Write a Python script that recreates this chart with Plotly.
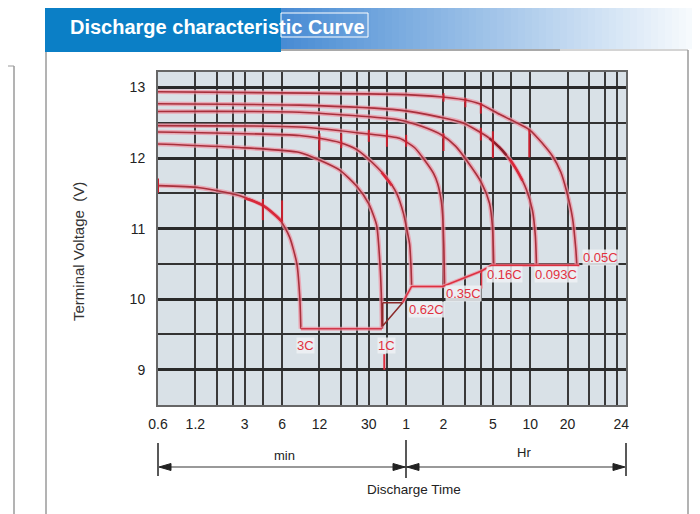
import numpy as np
import plotly.graph_objects as go

# ---------------- axis ticks / grid ----------------
x_tick_vals = [0.6, 1.2, 3, 6, 12, 30, 60, 120, 300, 600, 1200, 3250]
x_tick_text = ["0.6", "1.2", "3", "6", "12", "30", "1", "2", "5", "10", "20", "24"]
x_grid_min = [1.2, 1.8, 2.4, 3, 4.2, 6, 12, 18, 24, 30, 42, 60,
              120, 180, 240, 300, 420, 600, 1200, 1800, 2400, 3000]
y_tick_vals = [9, 10, 11, 12, 13]
y_grid_half = [9.5, 10.5, 11.5, 12.5]

# ---------------- discharge curves (time in minutes, voltage in V) ----------------
t_3c = [0.6, 1.3, 2.7, 4.1, 5.75, 6.9, 7.9, 8.35, 8.5]
v_3c = [11.61, 11.58, 11.47, 11.34, 11.13, 10.88, 10.5, 10.0, 9.58]

t_1c = [0.6, 2.7, 8.3, 12.1, 17.5, 24, 30, 34.7, 36.6, 37.8, 38.3]
v_1c = [12.2, 12.15, 12.08, 11.97, 11.83, 11.6, 11.35, 11.05, 10.6, 10.1, 9.58]

t_062c = [0.6, 8.3, 12, 17.5, 24, 32.3, 41.8, 50.3, 57, 60.6, 64, 65.7, 66.4]
v_062c = [12.37, 12.32, 12.28, 12.22, 12.12, 11.93, 11.72, 11.5, 11.22, 11.0, 10.78, 10.45, 10.2]

t_035c = [0.6, 8.3, 30, 53, 70, 84.6, 100, 107.6, 115, 118, 121, 122.5]
v_035c = [12.46, 12.44, 12.34, 12.28, 12.15, 11.97, 11.78, 11.64, 11.4, 11.2, 10.7, 10.18]

t_016c = [0.6, 8.3, 53, 80, 115, 150, 184, 243, 282, 298, 305]
v_016c = [12.66, 12.65, 12.54, 12.45, 12.33, 12.17, 11.97, 11.65, 11.36, 11.02, 10.48]

t_0093c = [0.6, 8.3, 53, 112, 171, 282, 386, 460, 520, 560, 625, 660, 674]
v_0093c = [12.77, 12.75, 12.68, 12.58, 12.5, 12.28, 12.04, 11.85, 11.68, 11.55, 11.26, 10.9, 10.48]

t_005c = [0.6, 10, 60, 112, 171, 234, 340, 592, 760, 906, 1060, 1175, 1313, 1400, 1425]
v_005c = [12.94, 12.92, 12.9, 12.87, 12.83, 12.77, 12.62, 12.4, 12.2, 12.03, 11.8, 11.54, 11.16, 10.7, 10.48]

# cut-off connectors
t_cut3 = [8.5, 38.3]
v_cut3 = [9.58, 9.58]
t_tri = [38.8, 56.2, 38.8, 38.8]
v_tri = [9.95, 9.95, 9.62, 9.95]
t_cut = [56.2, 66.4, 118, 243, 293, 1494]
v_cut = [9.95, 10.18, 10.18, 10.40, 10.48, 10.48]
t_cut_bar = [243, 243]
v_cut_bar = [10.40, 10.15]
t_1c_bar = [40, 40]
v_1c_bar = [9.0, 9.22]

# marks on curves
tick_t = [0.6, 4.2, 6.0, 12, 18, 30, 42, 60, 120, 240, 300, 120, 180, 240, 590]
tick_lo = [11.51, 11.12, 11.10, 12.11, 12.14, 12.23, 12.16, 12.16, 12.10, 12.25, 12.0, 12.80, 12.72, 12.63, 12.01]
tick_hi = [11.71, 11.42, 11.40, 12.35, 12.35, 12.40, 12.40, 12.33, 12.35, 12.43, 12.38, 12.92, 12.85, 12.78, 12.40]

hl_bright = [([3.0, 4.2, 6.0], [11.43, 11.33, 11.10]),
             ([38, 46], [11.80, 11.61]),
             ([408, 460, 520], [11.99, 11.85, 11.68])]
hl_dark = [([282, 340, 386], [12.28, 12.15, 12.04])]

# curve labels
lab_text = ["3C", "1C", "0.62C", "0.35C", "0.16C", "0.093C", "0.05C"]
lab_t = [9.3, 41.8, 87.7, 174, 372, 976, 2205]
lab_v = [9.34, 9.34, 9.86, 10.08, 10.35, 10.35, 10.59]

curves = [(t_3c, v_3c), (t_1c, v_1c), (t_062c, v_062c), (t_035c, v_035c),
          (t_016c, v_016c), (t_0093c, v_0093c), (t_005c, v_005c)]

FONT = "Liberation Sans, Arial, sans-serif"
HALO = "rgba(238,150,165,0.75)"
CORE = "#a8303c"
RED = "#d8283a"

fig = go.Figure()

for t, v in curves:
    fig.add_trace(go.Scatter(x=t, y=v, mode="lines",
                             line=dict(color=HALO, width=4.5, shape="spline", smoothing=0.6),
                             hoverinfo="skip"))
    fig.add_trace(go.Scatter(x=t, y=v, mode="lines",
                             line=dict(color=CORE, width=1.6, shape="spline", smoothing=0.6)))

# connectors
fig.add_trace(go.Scatter(x=t_cut3, y=v_cut3, mode="lines", line=dict(color=HALO, width=4)))
fig.add_trace(go.Scatter(x=t_cut3, y=v_cut3, mode="lines", line=dict(color="#d0384a", width=1.5)))
fig.add_trace(go.Scatter(x=t_tri, y=v_tri, mode="lines", line=dict(color="#8b2a2a", width=1.5)))
fig.add_trace(go.Scatter(x=t_cut, y=v_cut, mode="lines", line=dict(color=HALO, width=3.5)))
fig.add_trace(go.Scatter(x=t_cut, y=v_cut, mode="lines", line=dict(color="#dd3040", width=1.5)))
fig.add_trace(go.Scatter(x=t_cut_bar, y=v_cut_bar, mode="lines", line=dict(color="#dd3040", width=1.5)))
fig.add_trace(go.Scatter(x=t_1c_bar, y=v_1c_bar, mode="lines", line=dict(color="#dd3040", width=2)))

# highlight segments
for t, v in hl_bright:
    fig.add_trace(go.Scatter(x=t, y=v, mode="lines", line=dict(color=RED, width=2.5, shape="spline")))
for t, v in hl_dark:
    fig.add_trace(go.Scatter(x=t, y=v, mode="lines", line=dict(color="#8b1e2a", width=2.5, shape="spline")))

# tick marks on curves
tx, ty = [], []
for t, lo, hi in zip(tick_t, tick_lo, tick_hi):
    tx += [t, t, None]
    ty += [lo, hi, None]
fig.add_trace(go.Scatter(x=tx, y=ty, mode="lines", line=dict(color="#c8202e", width=2)))

# labels
for s, t, v in zip(lab_text, lab_t, lab_v):
    fig.add_annotation(x=np.log10(t), y=v, xref="x", yref="y", text=s, showarrow=False,
                       xanchor="center", yanchor="middle",
                       font=dict(family=FONT, size=13, color="#e2323f"),
                       bgcolor="rgba(238,241,244,0.85)", borderpad=0)

# ---------------- decoration (page pixel -> paper helpers) ----------------
OFF = 8  # page body margin
W, H = 700 - OFF, 514 - OFF
L, R, T, B = 158, 626, 72, 405
def px(x):
    return (x - L) / (R - L)
def py(y):
    return (B - y) / (B - T)

shapes = []
def rect(x0, y0, x1, y1, fill, line=None, lw=0):
    shapes.append(dict(type="rect", xref="paper", yref="paper",
                       x0=px(x0), x1=px(x1), y0=py(y1), y1=py(y0),
                       fillcolor=fill, line=dict(color=line or fill, width=lw), layer="above"))
def seg(x0, y0, x1, y1, color, w):
    shapes.append(dict(type="line", xref="paper", yref="paper",
                       x0=px(x0), x1=px(x1), y0=py(y0), y1=py(y1),
                       line=dict(color=color, width=w), layer="above"))
def tri(pts, color):
    p = "M " + " L ".join(f"{px(a):.5f},{py(b):.5f}" for a, b in pts) + " Z"
    shapes.append(dict(type="path", xref="paper", yref="paper", path=p,
                       fillcolor=color, line=dict(color=color, width=1), layer="above"))
def text(x, y, s, size, color="#222222", angle=0, weight="normal", xanchor="center"):
    fig.add_annotation(xref="paper", yref="paper", x=px(x), y=py(y), text=s, showarrow=False,
                       xanchor=xanchor, yanchor="middle", textangle=angle,
                       font=dict(family=FONT, size=size, color=color, weight=weight))

# header gradient
n = 60
x_start, x_end = 280, 700
for i in range(n):
    f = i / (n - 1)
    r = int(72 + (250 - 72) * f)
    g = int(140 + (252 - 140) * f)
    b = int(212 + (254 - 212) * f)
    xa = x_start + (x_end - x_start) * i / n
    xb = x_start + (x_end - x_start) * (i + 1) / n + 0.5
    rect(xa, 5, xb, 49, f"rgb({r},{g},{b})")
seg(280, 50, 560, 50, "#555555", 1.2)
seg(560, 50, 688, 50, "#aaaaaa", 1)
# header tab
rect(45, 5, 281, 52, "#0b7fc6")
rect(281, 13, 368, 37, "rgba(0,0,0,0)", "white", 1)
# panel borders
seg(46, 52, 46, 514, "#9a9a9a", 1.5)
seg(688, 50, 688, 514, "#9a9a9a", 1.5)
seg(0, 66, 14, 66, "#9a9a9a", 1)
seg(14, 66, 14, 514, "#9a9a9a", 1.5)

# time range bar below the axis
seg(160, 467, 624, 467, "#999999", 2)
seg(158, 443, 158, 476, "#222222", 1.5)
seg(406, 440, 406, 478, "#222222", 1.5)
seg(626, 443, 626, 476, "#222222", 1.5)
tri([(159, 467), (171, 463.5), (171, 470.5)], "#222222")
tri([(405, 467), (393, 463.5), (393, 470.5)], "#222222")
tri([(407, 467), (419, 463.5), (419, 470.5)], "#222222")
tri([(625, 467), (613, 463.5), (613, 470.5)], "#222222")

text(68, 27, "Discharge characteristic Curve", 20, "white", weight="bold", xanchor="left")
text(78, 252, "Terminal Voltage  (V)", 15, "#333333", angle=-90)
text(284, 455, "min", 13)
text(524, 452, "Hr", 13)
text(414, 490, "Discharge Time", 13.5)

fig.update_layout(
    width=W, height=H,
    margin=dict(l=L - OFF, r=W - (R - OFF), t=T - OFF, b=H - (B - OFF)),
    paper_bgcolor="white", plot_bgcolor="#d9e1e7",
    showlegend=False, shapes=shapes,
    font=dict(family=FONT),
)
fig.update_xaxes(type="log", range=[np.log10(0.6), np.log10(3550)],
                 tickmode="array", tickvals=x_tick_vals, ticktext=x_tick_text,
                 showgrid=False, zeroline=False, ticks="",
                 minor=dict(tickmode="array", tickvals=x_grid_min, showgrid=True,
                            gridcolor="#3a3a3a", gridwidth=2, ticks=""),
                 showline=True, mirror=True, linecolor="#666666", linewidth=2,
                 tickfont=dict(family=FONT, size=14, color="#222"), ticklabelstandoff=5)
fig.update_yaxes(range=[8.5, 13.22], tickmode="array", tickvals=y_tick_vals,
                 showgrid=True, gridcolor="#2a2a2a", gridwidth=2.5, zeroline=False, ticks="",
                 minor=dict(tickmode="array", tickvals=y_grid_half, showgrid=True,
                            gridcolor="#333333", gridwidth=2, ticks=""),
                 showline=True, mirror=True, linecolor="#666666", linewidth=2,
                 tickfont=dict(family=FONT, size=14, color="#222"), ticklabelstandoff=8)

fig.write_html("out.html")
